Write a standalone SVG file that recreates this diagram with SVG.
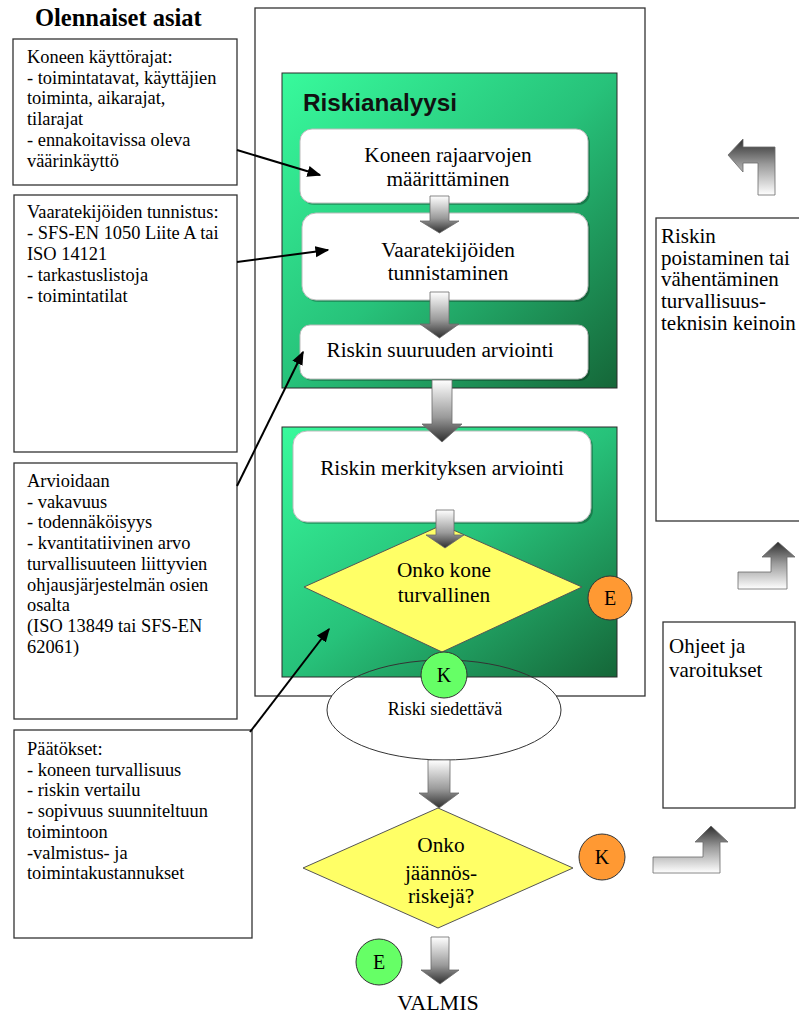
<svg xmlns="http://www.w3.org/2000/svg" width="799" height="1014" viewBox="0 0 799 1014">
<defs>
  <linearGradient id="green" x1="0" y1="0" x2="1" y2="1">
    <stop offset="0" stop-color="#38FA9C"/>
    <stop offset="0.5" stop-color="#27C27A"/>
    <stop offset="1" stop-color="#156638"/>
  </linearGradient>
  <linearGradient id="down" x1="0" y1="0" x2="0" y2="1">
    <stop offset="0" stop-color="#FFFFFF"/>
    <stop offset="0.6" stop-color="#9A9A9A"/>
    <stop offset="1" stop-color="#2E2E2E"/>
  </linearGradient>
  <linearGradient id="up" x1="0" y1="0" x2="0" y2="1">
    <stop offset="0" stop-color="#2E2E2E"/>
    <stop offset="0.45" stop-color="#9A9A9A"/>
    <stop offset="1" stop-color="#FFFFFF"/>
  </linearGradient>
  <marker id="ah" viewBox="0 0 10 10" refX="9" refY="5" markerWidth="7" markerHeight="7" markerUnits="strokeWidth" orient="auto">
    <path d="M0,1 L10,5 L0,9 z" fill="#000"/>
  </marker>
  <style>
    .serif{font-family:"Liberation Serif","Times New Roman",serif;fill:#000}
    .title{font-size:24.5px;font-weight:bold}
    .lt{font-size:18.4px}
    .ct{font-size:21.3px;text-anchor:middle}
    .rt{font-size:21px}
    .box{fill:#fff;stroke:#333;stroke-width:1.3}
    .rbox{fill:#fff;stroke:#BBBBBB;stroke-width:1}
    .shadow{fill:#000;opacity:0.25}
    .green{fill:url(#green);stroke:#2A2A2A;stroke-width:1}
    .darr{fill:url(#down);stroke:#6A6A6A;stroke-width:0.8}
    .uarr{fill:url(#up);stroke:#6A6A6A;stroke-width:0.8}
    .dia{fill:#FFFF66;stroke:#555;stroke-width:1}
    .cl{font-family:"Liberation Serif","Times New Roman",serif;font-size:20px;text-anchor:middle}
    .conn{stroke:#000;stroke-width:2;fill:none;marker-end:url(#ah)}
  </style>
</defs>

<text class="serif title" x="35" y="26">Olennaiset asiat</text>

<g id="frame">
  <rect x="255" y="8" width="390" height="688" fill="#fff" stroke="#333" stroke-width="1.3"/>
</g>

<g id="riskianalyysi">
  <rect class="green" x="282" y="73" width="335" height="315"/>
  <text x="303" y="111" font-family="'Liberation Sans', Arial, sans-serif" font-size="24.3" font-weight="bold" fill="#111">Riskianalyysi</text>
</g>

<g id="n-rajaarvot">
  <rect class="shadow" x="302" y="131" width="288" height="74" rx="12"/>
  <rect class="rbox" x="300" y="129" width="288" height="74" rx="12"/>
  <text class="serif ct" x="448" y="162">Koneen rajaarvojen</text>
  <text class="serif ct" x="448" y="186">määrittäminen</text>
</g>

<g id="n-vaaratekijat">
  <rect class="shadow" x="304" y="215" width="286" height="87" rx="14"/>
  <rect class="rbox" x="302" y="213" width="286" height="87" rx="14"/>
  <text class="serif ct" x="448" y="257">Vaaratekijöiden</text>
  <text class="serif ct" x="448" y="280">tunnistaminen</text>
</g>

<g id="n-suuruus">
  <rect class="shadow" x="302" y="327" width="288" height="54" rx="10"/>
  <rect class="rbox" x="300" y="325" width="288" height="54" rx="10"/>
  <text class="serif ct" x="440" y="357">Riskin suuruuden arviointi</text>
</g>

<g id="n-siedettava-bg">
  <ellipse cx="444" cy="710" rx="117" ry="50" fill="#fff"/>
</g>

<g id="merkitys-area">
  <rect class="green" x="282" y="427" width="335" height="250"/>
</g>

<g id="n-merkitys">
  <rect class="shadow" x="295" y="433" width="298" height="91" rx="14"/>
  <rect class="rbox" x="293" y="431" width="298" height="91" rx="14"/>
  <text class="serif ct" x="442" y="475">Riskin merkityksen arviointi</text>
</g>

<g id="n-turvallinen">
  <polygon class="dia" points="304,587 442,525 582,587 442,652"/>
  <text class="serif ct" x="444" y="577">Onko kone</text>
  <text class="serif ct" x="444" y="602">turvallinen</text>
</g>

<g id="n-siedettava">
  <ellipse cx="444" cy="710" rx="117" ry="50" fill="none" stroke="#333" stroke-width="1"/>
  <text class="serif" x="445" y="715" font-size="18" text-anchor="middle">Riski siedettävä</text>
</g>

<g id="n-jaannos">
  <polygon class="dia" points="303,868 438,808 573,868 438,928"/>
  <text class="serif ct" x="441" y="852">Onko</text>
  <text class="serif ct" x="441" y="880">jäännös-</text>
  <text class="serif ct" x="441" y="903">riskejä?</text>
</g>

<g id="n-valmis">
  <text class="serif" x="438" y="1010" font-size="22" text-anchor="middle">VALMIS</text>
</g>

<g id="n-kayttorajat">
  <rect class="box" x="13" y="39" width="224" height="146"/>
  <text class="serif lt" x="27" y="63">Koneen käyttörajat:<tspan x="27" dy="20.7">- toimintatavat, käyttäjien</tspan><tspan x="27" dy="20.7">toiminta, aikarajat,</tspan><tspan x="27" dy="20.7">tilarajat</tspan><tspan x="27" dy="20.7">- ennakoitavissa oleva</tspan><tspan x="27" dy="20.7">väärinkäyttö</tspan></text>
</g>

<g id="n-tunnistus">
  <rect class="box" x="14" y="195" width="223" height="257"/>
  <text class="serif lt" x="27" y="218">Vaaratekijöiden tunnistus:<tspan x="27" dy="21">- SFS-EN 1050 Liite A tai</tspan><tspan x="27" dy="21">ISO 14121</tspan><tspan x="27" dy="21">- tarkastuslistoja</tspan><tspan x="27" dy="21">- toimintatilat</tspan></text>
</g>

<g id="n-arvioidaan">
  <rect class="box" x="14" y="463" width="223" height="256"/>
  <text class="serif lt" x="27" y="487">Arvioidaan<tspan x="27" dy="20.7">- vakavuus</tspan><tspan x="27" dy="20.7">- todennäköisyys</tspan><tspan x="27" dy="20.7">- kvantitatiivinen arvo</tspan><tspan x="27" dy="20.7">turvallisuuteen liittyvien</tspan><tspan x="27" dy="20.7">ohjausjärjestelmän osien</tspan><tspan x="27" dy="20.7">osalta</tspan><tspan x="27" dy="20.7">(ISO 13849 tai SFS-EN</tspan><tspan x="27" dy="20.7">62061)</tspan></text>
</g>

<g id="n-paatokset">
  <rect class="box" x="14" y="730" width="238" height="208"/>
  <text class="serif lt" x="27" y="755">Päätökset:<tspan x="27" dy="20.7">- koneen turvallisuus</tspan><tspan x="27" dy="20.7">- riskin vertailu</tspan><tspan x="27" dy="20.7">- sopivuus suunniteltuun</tspan><tspan x="27" dy="20.7">toimintoon</tspan><tspan x="27" dy="20.7">-valmistus- ja</tspan><tspan x="27" dy="20.7">toimintakustannukset</tspan></text>
</g>

<g id="n-poistaminen">
  <rect class="box" x="656" y="218" width="160" height="303"/>
  <text class="serif rt" x="661" y="243">Riskin<tspan x="661" dy="21.7">poistaminen tai</tspan><tspan x="661" dy="21.7">vähentäminen</tspan><tspan x="661" dy="21.7">turvallisuus-</tspan><tspan x="661" dy="21.7">teknisin keinoin</tspan></text>
</g>

<g id="n-ohjeet">
  <rect class="box" x="663" y="622" width="132" height="186"/>
  <text class="serif rt" x="669" y="653">Ohjeet ja<tspan x="669" dy="24">varoitukset</tspan></text>
</g>

<g id="connectors">
  <polygon class="darr" points="430,196 449,196 449,221 459,221 439.5,233 420,221 430,221"/>
  <polygon class="darr" points="430,292 449,292 449,324 459,324 439.5,338 420,324 430,324"/>
  <polygon class="darr" points="432,380 452,380 452,424 462,424 442,442 422,424 432,424"/>
  <polygon class="darr" points="436,510 454,510 454,535 464,535 445,548 426,535 436,535"/>
  <polygon class="darr" points="428,760 450,760 450,793 459,793 439,808 419,793 428,793"/>
  <polygon class="darr" points="431,937 449,937 449,970 459,970 440,984 421,970 431,970"/>
  <polygon class="uarr" points="728,155 743,139 743,147 775,147 775,195 758,195 758,163 743,163 743,172"/>
  <polygon class="uarr" points="778,542 795,557 787,557 787,589 738,589 738,572 771,572 771,557 762,557"/>
  <polygon class="uarr" points="711,826 728,842 720,842 720,873 653,873 653,857 703,857 703,842 695,842"/>
  <line class="conn" x1="237" y1="150" x2="320" y2="175"/>
  <line class="conn" x1="237" y1="262" x2="328" y2="250"/>
  <line class="conn" x1="237" y1="486" x2="303" y2="352"/>
  <line class="conn" x1="250" y1="732" x2="329" y2="629"/>
</g>

<g id="c-e1">
  <circle cx="610" cy="598" r="22" fill="#FF9933" stroke="#333" stroke-width="1"/>
  <text class="cl" x="610" y="605">E</text>
</g>
<g id="c-k1">
  <circle cx="444" cy="675" r="23" fill="#66FF66" stroke="#333" stroke-width="1"/>
  <text class="cl" x="444" y="682">K</text>
</g>
<g id="c-k2">
  <circle cx="602" cy="857" r="23" fill="#FF9933" stroke="#333" stroke-width="1"/>
  <text class="cl" x="602" y="864">K</text>
</g>
<g id="c-e2">
  <circle cx="379" cy="962" r="23" fill="#66FF66" stroke="#333" stroke-width="1"/>
  <text class="cl" x="379" y="969">E</text>
</g>
</svg>
